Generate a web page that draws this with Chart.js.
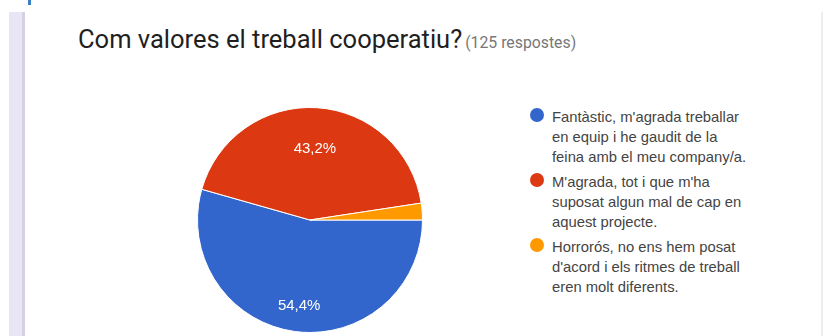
<!DOCTYPE html>
<html>
<head>
<meta charset="utf-8">
<script src="https://cdn.jsdelivr.net/npm/chart.js@4/dist/chart.umd.min.js"></script>
<style>
  html,body{margin:0;padding:0;background:#fff;width:826px;height:336px;overflow:hidden;position:relative;}
  .bar{position:absolute;left:9px;top:12px;width:13px;height:324px;background:#e9e4f6;}
  .bar2{position:absolute;left:22px;top:12px;width:3px;height:324px;background:#d6d1e2;}
  .mark{position:absolute;left:28px;top:0;width:3px;height:5px;background:#3a7fc6;}
  .rline{position:absolute;left:821px;top:12px;width:2px;height:324px;background:#ececf3;}
  #title{position:absolute;left:78px;top:27px;white-space:nowrap;font-family:Roboto,sans-serif;line-height:25px;}
  #title .q{font-size:25.5px;color:#1f1f1f;}
  #title .n{font-size:15.8px;color:#777;margin-left:3px;}
  #chartBox{position:absolute;left:197px;top:107px;width:226px;height:226px;}
  #legend{position:absolute;left:530px;top:107px;font-family:"Liberation Sans",Arial,sans-serif;font-size:14.8px;color:#444;}
  .item{position:relative;height:60px;margin-bottom:5px;}
  .dot{position:absolute;left:0;top:1px;width:14px;height:14px;border-radius:50%;}
  .txt{position:absolute;left:22px;top:0;line-height:20px;white-space:nowrap;}
</style>
</head>
<body>
<div class="bar"></div><div class="bar2"></div><div class="mark"></div><div class="rline"></div>
<div id="title"><span class="q"></span><span class="n"></span></div>
<div id="chartBox"><canvas id="c"></canvas></div>
<div id="legend"></div>
<script>
const titleText = "Com valores el treball cooperatiu?";
const responsesText = "(125 respostes)";
const categories = [
  ["Fantàstic, m'agrada treballar", "en equip i he gaudit de la", "feina amb el meu company/a."],
  ["M'agrada, tot i que m'ha", "suposat algun mal de cap en", "aquest projecte."],
  ["Horrorós, no ens hem posat", "d'acord i els ritmes de treball", "eren molt diferents."]
];
const counts = [68, 54, 3];
const percentLabels = ["54,4%", "43,2%", ""];
const colors = ["#3366cc", "#dc3912", "#ff9900"];

document.querySelector('#title .q').textContent = titleText;
document.querySelector('#title .n').textContent = responsesText;

const legend = document.getElementById('legend');
categories.forEach((lines, i) => {
  const item = document.createElement('div');
  item.className = 'item';
  const dot = document.createElement('div');
  dot.className = 'dot';
  dot.style.background = colors[i];
  const txt = document.createElement('div');
  txt.className = 'txt';
  lines.forEach((l, j) => {
    if (j) txt.appendChild(document.createElement('br'));
    txt.appendChild(document.createTextNode(l));
  });
  item.appendChild(dot); item.appendChild(txt);
  legend.appendChild(item);
});

const sliceLabels = {
  id: 'sliceLabels',
  afterDatasetsDraw(chart) {
    const ctx = chart.ctx;
    const meta = chart.getDatasetMeta(0);
    ctx.save();
    ctx.font = '15px "Liberation Sans", Arial, sans-serif';
    ctx.fillStyle = '#fff';
    ctx.textAlign = 'center';
    ctx.textBaseline = 'top';
    meta.data.forEach((arc, i) => {
      const t = percentLabels[i];
      if (!t) return;
      const p = arc.getProps(['x','y','startAngle','endAngle','outerRadius'], true);
      const mid = (p.startAngle + p.endAngle) / 2;
      const d = p.outerRadius * 0.70;
      ctx.fillText(t, p.x + Math.cos(mid) * d, p.y + Math.sin(mid) * d);
    });
    ctx.restore();
  }
};

new Chart(document.getElementById('c'), {
  type: 'pie',
  data: {
    labels: categories,
    datasets: [{
      data: counts,
      backgroundColor: colors,
      borderColor: '#ffffff',
      borderWidth: 1
    }]
  },
  options: {
    responsive: true,
    maintainAspectRatio: false,
    animation: false,
    rotation: 90,
    layout: { padding: 0 },
    plugins: { legend: { display: false }, tooltip: { enabled: false } }
  },
  plugins: [sliceLabels]
});
</script>
</body>
</html>
